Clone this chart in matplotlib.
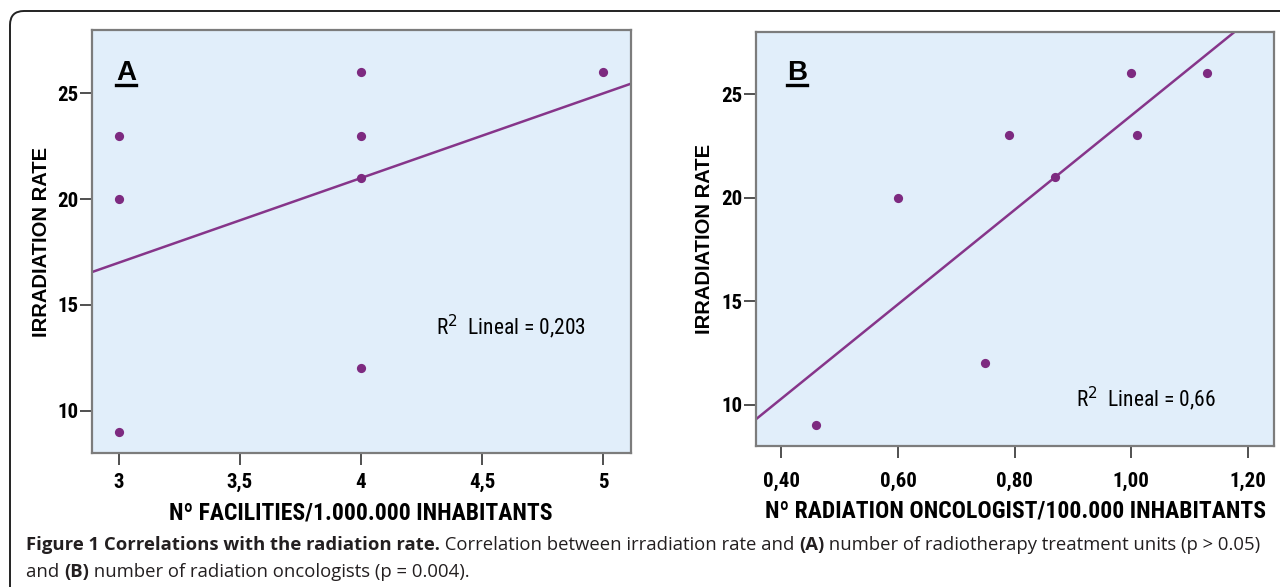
import matplotlib
matplotlib.use("Agg")
import matplotlib.pyplot as plt
import numpy as np
from matplotlib import font_manager
from matplotlib.font_manager import FontProperties
from matplotlib.patches import FancyBboxPatch
from matplotlib.lines import Line2D
from matplotlib.transforms import IdentityTransform

# ---------------- data ----------------
facilities = [3, 3, 3, 4, 4, 4, 4, 5]
rate_a = [23, 20, 9, 26, 23, 21, 12, 26]
oncologists = [0.60, 0.79, 0.87, 1.00, 1.01, 1.13, 0.75, 0.46]
rate_b = [20, 23, 21, 26, 23, 26, 12, 9]
xticks_a = [3, 3.5, 4, 4.5, 5]
xticklabels_a = ["3", "3,5", "4", "4,5", "5"]
xticks_b = [0.40, 0.60, 0.80, 1.00, 1.20]
xticklabels_b = ["0,40", "0,60", "0,80", "1,00", "1,20"]
yticks = [10, 15, 20, 25]
r2_a = "0,203"
r2_b = "0,66"

files = [f.fname for f in font_manager.fontManager.ttflist]

def find_font(patterns):
    low = [(p.lower().replace(" ", "").replace("_", "").replace("-", ""), p) for p in files]
    for pat in patterns:
        for key, path in low:
            name = key.split("/")[-1]
            if name.startswith(pat):
                return path
    return None

bold_narrow_path = find_font(["liberationsansnarrowbold.", "arialnarrowbold", "arialnbd",
                              "robotocondensedbold.", "dejavusanscondensedbold.",
                              "opensanscondensedbold.", "ptsansnarrowbold", "archivonarrowbold."])
reg_narrow_path = find_font(["liberationsansnarrowregular.", "liberationsansnarrow.", "arialnarrow.",
                             "arialn.", "robotocondensedregular.", "dejavusanscondensed.",
                             "opensanscondensedregular.", "ptsansnarrowregular", "archivonarrowregular."])

def fp_bold(size):
    if bold_narrow_path:
        return FontProperties(fname=bold_narrow_path, size=size)
    return FontProperties(family="Liberation Sans", weight="bold", size=size)

def fp_reg(size):
    if reg_narrow_path:
        return FontProperties(fname=reg_narrow_path, size=size)
    return FontProperties(family="Liberation Sans", size=size)

W, H = 1280, 587
fig = plt.figure(figsize=(W / 100, H / 100), dpi=100)
fig.patch.set_facecolor("white")

bg = "#E1EEFA"
dot = "#7D2A80"
linec = "#86358A"
frame = "#7C7C7C"

def make_axes(rect_px, x, y, xlim, xt, xtl, xlabel, letter, r2txt, r2pos,
              xpad, xlabelpad, ylabelpad):
    l, t, r, b = rect_px
    ax = fig.add_axes([l / W, (H - b) / H, (r - l) / W, (b - t) / H])
    ax.set_facecolor(bg)
    ax.set_xlim(*xlim)
    ax.set_ylim(8, 28)
    ax.scatter(x, y, s=44, color=dot, zorder=3, linewidths=0)
    k, c = np.polyfit(x, y, 1)
    xs = np.array(xlim)
    ax.plot(xs, k * xs + c, color=linec, lw=1.8, zorder=2)
    ax.set_xticks(xt)
    ax.set_xticklabels(xtl)
    ax.set_yticks(yticks)
    ax.set_yticklabels([str(v) for v in yticks])
    for s in ax.spines.values():
        s.set_color(frame)
        s.set_linewidth(1.6)
    ax.tick_params(axis="both", direction="out", length=8.3, width=1.4, color="#505050")
    ax.tick_params(axis="y", pad=1.5)
    ax.tick_params(axis="x", pad=xpad)
    for lab in ax.get_xticklabels() + ax.get_yticklabels():
        lab.set_fontproperties(fp_bold(15))
    ax.set_xlabel(xlabel, fontproperties=fp_bold(17), labelpad=xlabelpad)
    ax.set_ylabel("IRRADIATION RATE", fontfamily="Liberation Sans", fontweight="bold",
                  fontsize=14.5, labelpad=ylabelpad)
    tx = ax.text(letter[1], letter[2], letter[0], transform=ax.transAxes,
                 fontfamily="Liberation Sans", fontweight="bold", fontsize=20,
                 ha="left", va="baseline")
    fig.canvas.draw()
    bb = tx.get_window_extent().transformed(ax.transAxes.inverted())
    ax.add_line(Line2D([bb.x0, bb.x1], [letter[2] - 0.012] * 2, transform=ax.transAxes,
                       color="black", lw=2.4))
    ax.text(r2pos[0], r2pos[1], "R$^{2}$  Lineal = " + r2txt, transform=ax.transAxes,
            fontproperties=fp_reg(15.5), ha="left", va="center")
    return ax

axA = make_axes((91.8, 30, 630.6, 453), facilities, rate_a, (2.888, 5.114), xticks_a, xticklabels_a,
                "Nº FACILITIES/1.000.000 INHABITANTS", ("A", 0.045, 0.882), r2_a, (0.639, 0.298),
                xpad=5.8, xlabelpad=7, ylabelpad=4)
axB = make_axes((756.3, 32, 1273.9, 446), oncologists, rate_b, (0.357, 1.245), xticks_b, xticklabels_b,
                "Nº RADIATION ONCOLOGIST/100.000 INHABITANTS", ("B", 0.059, 0.884), r2_b, (0.618, 0.115),
                xpad=10, xlabelpad=6.5, ylabelpad=5)

# outer rounded frame
box = FancyBboxPatch((10, -30), 1320, 576 + 30, boxstyle="round,pad=0,rounding_size=14",
                     transform=IdentityTransform(), facecolor="none", edgecolor="#222222", lw=1.4)
fig.patches.append(box)

# caption with mixed weights
renderer = fig.canvas.get_renderer()

def caption_line(segments, x0, y0, size=13.3):
    x = x0
    for txt, bold in segments:
        t = fig.text(x / W, (H - y0) / H, txt, fontfamily="Open Sans", fontsize=size,
                     fontweight="bold" if bold else "normal", color="#231F20",
                     ha="left", va="center")
        ext = t.get_window_extent(renderer=renderer)
        x += ext.width

caption_line([("Figure 1 Correlations with the radiation rate.", True),
              (" Correlation between irradiation rate and ", False),
              ("(A)", True),
              (" number of radiotherapy treatment units (p > 0.05)", False)], 26, 545)
caption_line([("and ", False), ("(B)", True),
              (" number of radiation oncologists (p = 0.004).", False)], 26, 572)

fig.savefig("out.png", dpi=100, facecolor="white")
